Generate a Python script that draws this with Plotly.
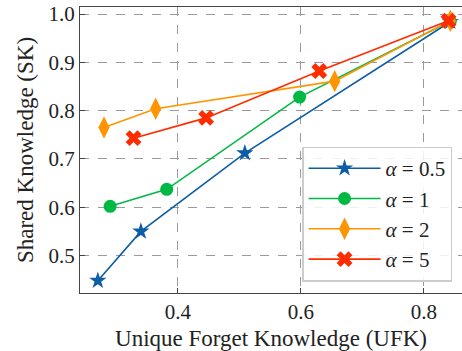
import plotly.graph_objects as go

# Unique forget knowledge (x) vs shared knowledge (y) for each alpha
ufk_a05 = [0.270, 0.340, 0.509, 0.843]
sk_a05 = [0.448, 0.550, 0.712, 0.984]
ufk_a1 = [0.290, 0.382, 0.598, 0.843]
sk_a1 = [0.602, 0.637, 0.828, 0.985]
ufk_a2 = [0.280, 0.364, 0.655, 0.843]
sk_a2 = [0.765, 0.804, 0.861, 0.986]
ufk_a5 = [0.328, 0.446, 0.630, 0.840]
sk_a5 = [0.743, 0.785, 0.882, 0.986]

labels = ["<i>α</i> = 0.5", "<i>α</i> = 1", "<i>α</i> = 2", "<i>α</i> = 5"]
colors = ["#0C5DA5", "#00B945", "#FF9500", "#FF2C00"]
symbols = ["star", "circle", "diamond-tall", "x"]
sizes = [13, 13, 16, 14]

series = [(ufk_a05, sk_a05), (ufk_a1, sk_a1), (ufk_a2, sk_a2), (ufk_a5, sk_a5)]

fig = go.Figure()
for (xs, ys), name, c, s, sz in zip(series, labels, colors, symbols, sizes):
    fig.add_trace(go.Scatter(
        x=xs, y=ys, mode="lines+markers", name=name,
        line=dict(color=c, width=1.6),
        marker=dict(symbol=s, size=sz, color=c, line=dict(width=0)),
    ))

font = "Liberation Serif"
axis_common = dict(
    showline=True, linecolor="#444", linewidth=1.2,
    ticks="inside", ticklen=5, tickcolor="#444", tickwidth=1,
    showgrid=True, gridcolor="#9a9a9a", griddash="dash", gridwidth=0.8,
    zeroline=False,
    tickfont=dict(family=font, size=21, color="#222"),
)

fig.update_layout(
    width=462, height=351,
    margin=dict(l=80, r=0, t=7, b=58),
    paper_bgcolor="white", plot_bgcolor="white",
    font=dict(family=font, color="#222"),
    xaxis=dict(
        range=[0.241, 0.862], tickvals=[0.4, 0.6, 0.8], ticktext=["0.4", "0.6", "0.8"],
        mirror=True,
        title=dict(text="Unique Forget Knowledge (UFK)", font=dict(family=font, size=23), standoff=7),
        **axis_common,
    ),
    yaxis=dict(
        range=[0.4225, 1.0145], tickvals=[0.5, 0.6, 0.7, 0.8, 0.9, 1.0],
        ticktext=["0.5", "0.6", "0.7", "0.8", "0.9", "1.0"],
        title=dict(text="Shared Knowledge (SK)", font=dict(family=font, size=23), standoff=8),
        **axis_common,
    ),
    legend=dict(
        x=0.974, xanchor="right", y=0.04, yanchor="bottom",
        bgcolor="rgba(255,255,255,0.85)", bordercolor="#cccccc", borderwidth=1.5,
        font=dict(family=font, size=21, color="#222"),
        itemwidth=72,
    ),
)

fig.write_html("out.html")
